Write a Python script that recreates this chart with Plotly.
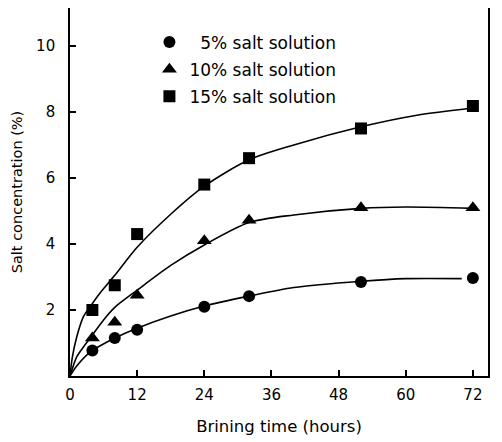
import plotly.graph_objects as go

# Measured data points
hours = [4, 8, 12, 24, 32, 52, 72]
salt5 = [0.77, 1.15, 1.4, 2.1, 2.42, 2.85, 2.97]
salt10 = [1.15, 1.63, 2.45, 4.1, 4.72, 5.1, 5.1]
salt15 = [2.0, 2.75, 4.3, 5.8, 6.6, 7.5, 8.18]

# Fitted curves
curve5_x = [0, 1.2, 3.6, 8, 12, 18, 24, 32, 40, 52, 60, 70]
curve5_y = [0, 0.3, 0.72, 1.15, 1.45, 1.82, 2.12, 2.42, 2.68, 2.87, 2.95, 2.95]
curve10_x = [0, 1.2, 2.4, 3.6, 6, 8, 12, 18, 24, 32, 40, 52, 60, 72]
curve10_y = [0, 0.58, 0.88, 1.15, 1.7, 2.08, 2.6, 3.35, 3.97, 4.65, 4.88, 5.08, 5.12, 5.08]
curve15_x = [0, 0.4, 1.2, 2.4, 3.6, 5.3, 8, 12, 18, 24, 32, 40, 52, 62, 72]
curve15_y = [0, 0.55, 1.18, 1.8, 2.1, 2.5, 3.05, 3.9, 4.9, 5.75, 6.55, 7.0, 7.55, 7.9, 8.12]

series_names = ["\u20075% salt solution", "10% salt solution", "15% salt solution"]
x_ticks = [0, 12, 24, 36, 48, 60, 72]
y_ticks = [2, 4, 6, 8, 10]

FONT = "DejaVu Sans"

fig = go.Figure()

for cx, cy in [(curve5_x, curve5_y), (curve10_x, curve10_y), (curve15_x, curve15_y)]:
    fig.add_trace(go.Scatter(x=cx, y=cy, mode="lines",
                             line=dict(color="black", width=1.6, shape="spline", smoothing=0.8),
                             showlegend=False, hoverinfo="skip"))

symbols = ["circle", "triangle-up", "square"]
sizes = [12, 13, 12]
for i, (ys, sym) in enumerate(zip([salt5, salt10, salt15], symbols)):
    fig.add_trace(go.Scatter(x=hours, y=ys, mode="markers", name=series_names[i],
                             marker=dict(symbol=sym, size=sizes[i], color="black"),
                             legendgroup=f"g{i}"))

fig.update_layout(
    width=502, height=442,
    margin=dict(l=62, r=22, t=0, b=74),
    paper_bgcolor="white", plot_bgcolor="white",
    font=dict(family=FONT, color="black", size=15),
    legend=dict(x=0.19, y=0.955, xanchor="left", yanchor="top", bgcolor="rgba(0,0,0,0)",
                font=dict(size=17), tracegroupgap=2, itemwidth=30),
    showlegend=True,
)
fig.update_xaxes(range=[0, 74.7], tickvals=x_ticks, ticktext=[str(v) for v in x_ticks],
                 ticks="inside", ticklen=6, tickwidth=1.5, tickcolor="black",
                 showline=True, linecolor="black", linewidth=1.6, mirror=True,
                 showgrid=False, zeroline=False, tickfont=dict(size=15),
                 ticklabelstandoff=4, automargin=False,
                 title=dict(text="Brining time (hours)", font=dict(size=16.5), standoff=18))
fig.update_yaxes(range=[0, 11.15], tickvals=y_ticks, ticktext=[str(v) for v in y_ticks],
                 ticks="inside", ticklen=6, tickwidth=1.5, tickcolor="black",
                 showline=True, linecolor="black", linewidth=1.6, mirror=True,
                 showgrid=False, zeroline=False, tickfont=dict(size=15),
                 ticklabelstandoff=10, automargin=False,
                 title=dict(text="Salt concentration (%)", font=dict(size=14.5), standoff=10))

fig.write_html("out.html")
